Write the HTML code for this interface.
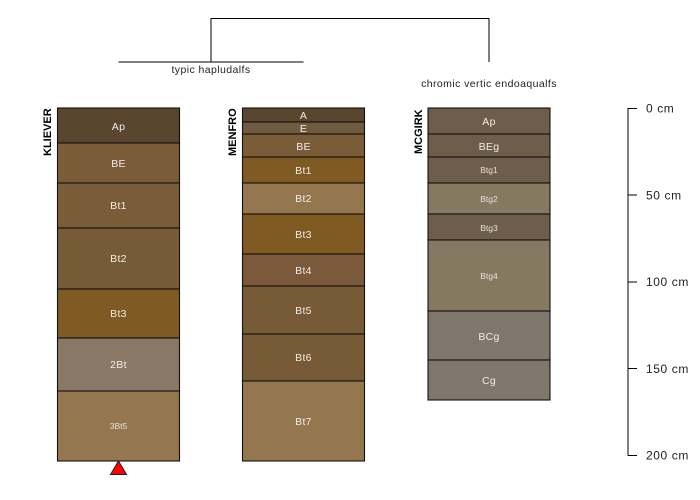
<!DOCTYPE html>
<html>
<head>
<meta charset="utf-8">
<style>
html,body{margin:0;padding:0;background:#fff;width:700px;height:500px;overflow:hidden}
svg{display:block}
text{font-family:"Liberation Sans",sans-serif}
.l{fill:#f0ece6;font-size:10.5px;text-anchor:middle;letter-spacing:.3px}
.s{fill:#e6e0d8;font-size:8.5px;text-anchor:middle}
.n{fill:#000;font-size:11px;font-weight:bold}
.t{fill:#222;font-size:10.5px;letter-spacing:.42px}
.u{fill:#222;font-size:12px;letter-spacing:.6px}
.h rect{stroke:#141210;stroke-width:1.1}
</style>
</head>
<body>
<svg width="700" height="500" viewBox="0 0 700 500" xmlns="http://www.w3.org/2000/svg">
<g fill="none" stroke="#000" stroke-width="1">
<path d="M211 62V18.500H489V62"/>
<path d="M118.500 62H303.500"/>
</g>
<text class="t" x="211" y="73" text-anchor="middle">typic hapludalfs</text>
<text class="t" x="489" y="87" text-anchor="middle">chromic vertic endoaqualfs</text>

<g class="h">
<rect x="57.500" y="108" width="122" height="35" fill="#5a452e"/>
<rect x="57.500" y="143" width="122" height="40" fill="#7a5c38"/>
<rect x="57.500" y="183" width="122" height="45" fill="#7a5c38"/>
<rect x="57.500" y="228" width="122" height="61" fill="#775b37"/>
<rect x="57.500" y="289" width="122" height="49" fill="#7f5a22"/>
<rect x="57.500" y="338" width="122" height="53" fill="#8a7866"/>
<rect x="57.500" y="391" width="122" height="70" fill="#94774f"/>
</g>
<text class="l" x="118.500" y="130">Ap</text>
<text class="l" x="118.500" y="167">BE</text>
<text class="l" x="118.500" y="209">Bt1</text>
<text class="l" x="118.500" y="262">Bt2</text>
<text class="l" x="118.500" y="317">Bt3</text>
<text class="l" x="118.500" y="368">2Bt</text>
<text class="s" x="118.500" y="429">3Bt5</text>
<text class="n" transform="translate(51 156) rotate(-90)">KLIEVER</text>
<polygon points="118.500,461 126.500,474.500 110.500,474.500" fill="#ff0000" stroke="#222" stroke-width="1"/>

<g class="h">
<rect x="242.500" y="108" width="122" height="14" fill="#5a452e"/>
<rect x="242.500" y="122" width="122" height="12" fill="#705a40"/>
<rect x="242.500" y="134" width="122" height="23" fill="#7a5c38"/>
<rect x="242.500" y="157" width="122" height="26" fill="#7f5a22"/>
<rect x="242.500" y="183" width="122" height="31" fill="#94774f"/>
<rect x="242.500" y="214" width="122" height="40" fill="#7f5a22"/>
<rect x="242.500" y="254" width="122" height="32" fill="#7b5a3b"/>
<rect x="242.500" y="286" width="122" height="48" fill="#775b37"/>
<rect x="242.500" y="334" width="122" height="47" fill="#775b37"/>
<rect x="242.500" y="381" width="122" height="80" fill="#94774f"/>
</g>
<text class="l" x="303.500" y="119">A</text>
<text class="l" x="303.500" y="132">E</text>
<text class="l" x="303.500" y="150">BE</text>
<text class="l" x="303.500" y="174">Bt1</text>
<text class="l" x="303.500" y="202">Bt2</text>
<text class="l" x="303.500" y="238">Bt3</text>
<text class="l" x="303.500" y="274">Bt4</text>
<text class="l" x="303.500" y="314">Bt5</text>
<text class="l" x="303.500" y="361">Bt6</text>
<text class="l" x="303.500" y="425">Bt7</text>
<text class="n" transform="translate(236 156) rotate(-90)">MENFRO</text>

<g class="h">
<rect x="428" y="108" width="122" height="26" fill="#6f5d4b"/>
<rect x="428" y="134" width="122" height="23" fill="#6f5d4b"/>
<rect x="428" y="157" width="122" height="26" fill="#6f5d4b"/>
<rect x="428" y="183" width="122" height="31" fill="#857961"/>
<rect x="428" y="214" width="122" height="26" fill="#6f5d4b"/>
<rect x="428" y="240" width="122" height="71" fill="#857961"/>
<rect x="428" y="311" width="122" height="49" fill="#7f766c"/>
<rect x="428" y="360" width="122" height="40" fill="#7f766c"/>
</g>
<text class="l" x="489" y="125">Ap</text>
<text class="l" x="489" y="150">BEg</text>
<text class="s" x="489" y="173">Btg1</text>
<text class="s" x="489" y="202">Btg2</text>
<text class="s" x="489" y="231">Btg3</text>
<text class="s" x="489" y="279">Btg4</text>
<text class="l" x="489" y="340">BCg</text>
<text class="l" x="489" y="384">Cg</text>
<text class="n" transform="translate(422 154) rotate(-90)">MCGIRK</text>

<g fill="none" stroke="#000" stroke-width="1">
<path d="M628 108V455.500"/>
<path d="M628 108.500H637M628 195H637M628 282H637M628 368.500H637M628 455.500H637"/>
</g>
<text class="u" x="646" y="112.500">0 cm</text>
<text class="u" x="646" y="199.500">50 cm</text>
<text class="u" x="646" y="286">100 cm</text>
<text class="u" x="646" y="373">150 cm</text>
<text class="u" x="646" y="459.500">200 cm</text>
</svg>
</body>
</html>
